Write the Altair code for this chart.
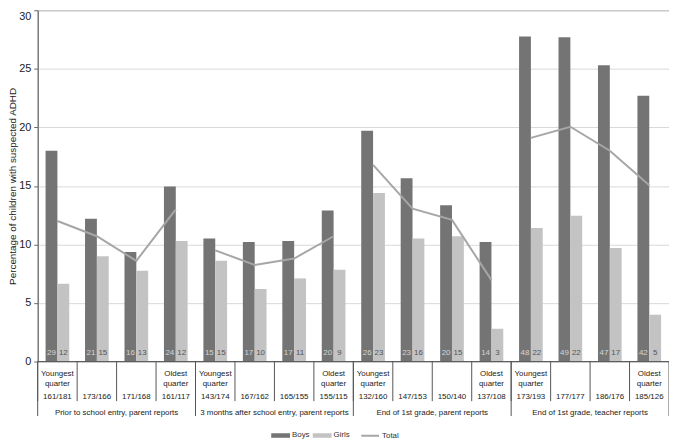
import altair as alt
import pandas as pd

groups = [
    "Prior to school entry, parent reports",
    "3 months after school entry, parent reports",
    "End of 1st grade, parent reports",
    "End of 1st grade, teacher reports",
]
quarter_labels = ["Youngest\nquarter", "", "", "Oldest\nquarter"]
n_labels = ["161/181", "173/166", "171/168", "161/117",
            "143/174", "167/162", "165/155", "155/115",
            "132/160", "147/153", "150/140", "137/108",
            "173/193", "177/177", "186/176", "185/126"]
boys_pct = [18.0, 12.2, 9.35, 14.95, 10.5, 10.2, 10.3, 12.9,
            19.7, 15.65, 13.35, 10.2, 27.75, 27.7, 25.3, 22.7]
girls_pct = [6.65, 9.0, 7.75, 10.3, 8.6, 6.2, 7.1, 7.85,
             14.4, 10.5, 10.7, 2.8, 11.4, 12.45, 9.7, 4.0]
total_pct = [12.0, 10.7, 8.6, 13.0, 9.5, 8.25, 8.8, 10.7,
             16.8, 13.05, 12.1, 6.95, 19.1, 20.05, 18.0, 15.05]
boys_n = [29, 21, 16, 24, 15, 17, 17, 20, 26, 23, 20, 14, 48, 49, 47, 42]
girls_n = [12, 15, 13, 12, 15, 10, 11, 9, 23, 16, 15, 3, 22, 22, 17, 5]

BOYS_C = "#747474"
GIRLS_C = "#c3c3c3"
TOTAL_C = "#a6a6a6"
FONT = "Liberation Sans"
H = 355
W = 638

cats = [f"c{i:02d}" for i in range(16)]
rows = []
for i, c in enumerate(cats):
    g = groups[i // 4]
    rows.append(dict(cat=c, group=g, sex="Boys", pct=boys_pct[i], n=boys_n[i]))
    rows.append(dict(cat=c, group=g, sex="Girls", pct=girls_pct[i], n=girls_n[i]))
bars_df = pd.DataFrame(rows)
total_df = pd.DataFrame(dict(cat=cats, group=[groups[i // 4] for i in range(16)],
                             pct=total_pct, sex=["Total"] * 16))
table_df = pd.DataFrame(dict(cat=cats, quarter=[quarter_labels[i % 4] for i in range(16)],
                             nlab=n_labels))
group_df = pd.DataFrame(dict(group=groups, mid=[cats[4 * k + 2] for k in range(4)],
                             start=[cats[4 * k] for k in range(4)]))
end_df = pd.DataFrame(dict(cat=[cats[-1]]))
zero_df = pd.DataFrame(dict(z=[0]))

xscale = alt.Scale(domain=cats, paddingInner=0, paddingOuter=0)
off_scale = alt.Scale(domain=["Boys", "Girls"], paddingInner=0, paddingOuter=0.6667)

bar_legend = alt.Legend(
    orient="none", legendX=236, legendY=420, direction="horizontal", title=None,
    labelFont=FONT, labelFontSize=8, labelColor="#333333", symbolSize=361,
    symbolType="M-1,-0.24L1,-0.24L1,0.24L-1,0.24Z", symbolStrokeWidth=0,
    labelOffset=2, columnPadding=3, padding=0,
)
line_legend = alt.Legend(
    orient="none", legendX=326, legendY=420, direction="horizontal", title=None,
    labelFont=FONT, labelFontSize=8, labelColor="#333333", symbolSize=324,
    symbolType="stroke", symbolStrokeWidth=2, labelOffset=2, padding=0,
)

yenc = alt.Y("pct:Q", scale=alt.Scale(domain=[0, 30]),
             axis=alt.Axis(values=[0, 5, 10, 15, 20, 25, 30], title="Percentage of children with suspected ADHD",
                           titleFont=FONT, titleFontSize=10, titleFontWeight="normal", titleColor="#222222",
                           titleX=-20, titleBaseline="bottom",
                           labelFont=FONT, labelFontSize=11, labelColor="#222222", labelPadding=3,
                           labelBaseline=alt.condition("datum.value == 30", alt.value("top"), alt.value("middle")),
                           grid=True, gridColor="#d9d9d9", domainColor="#666666", tickColor="#666666",
                           tickSize=4))

bars = alt.Chart(bars_df).mark_bar().encode(
    x=alt.X("cat:N", scale=xscale, axis=None),
    xOffset=alt.XOffset("sex:N", scale=off_scale),
    y=yenc,
    color=alt.Color("sex:N", scale=alt.Scale(domain=["Boys", "Girls"], range=[BOYS_C, GIRLS_C]),
                    legend=bar_legend),
)

counts = alt.Chart(bars_df).mark_text(font=FONT, fontSize=8, baseline="middle").encode(
    x=alt.X("cat:N", scale=xscale, axis=None),
    xOffset=alt.XOffset("sex:N", scale=off_scale),
    y=alt.value(H - 9),
    text="n:Q",
    color=alt.condition(alt.datum.sex == "Boys", alt.value("#d4d4d4"), alt.value("#555555")),
)

line = alt.Chart(total_df).mark_line(strokeWidth=2).encode(
    x=alt.X("cat:N", scale=xscale, axis=None),
    y=alt.Y("pct:Q"),
    detail="group:N",
    stroke=alt.Stroke("sex:N", scale=alt.Scale(domain=["Total"], range=[TOTAL_C]), legend=line_legend),
)

zero = alt.Chart(zero_df).mark_rule(color="#595959", strokeWidth=1).encode(y="z:Q")

sep = alt.Chart(table_df).mark_rule(color="#555555", strokeWidth=1).encode(
    x=alt.X("cat:N", scale=xscale, axis=None, bandPosition=0),
    y=alt.value(H),
    y2=alt.value(H + 40),
)
gsep = alt.Chart(group_df).mark_rule(color="#555555", strokeWidth=1).encode(
    x=alt.X("start:N", scale=xscale, axis=None, bandPosition=0),
    y=alt.value(H),
    y2=alt.value(H + 55),
)
endsep = alt.Chart(end_df).mark_rule(color="#555555", strokeWidth=1).encode(
    x=alt.X("cat:N", scale=xscale, axis=None, bandPosition=1),
    y=alt.value(H),
    y2=alt.value(H + 55),
)

qtext = alt.Chart(table_df).mark_text(font=FONT, fontSize=8, baseline="alphabetic", lineBreak="\n",
                                      lineHeight=9.5, color="#222222").encode(
    x=alt.X("cat:N", scale=xscale, axis=None),
    y=alt.value(H + 15),
    text="quarter:N",
)
ntext = alt.Chart(table_df).mark_text(font=FONT, fontSize=8, baseline="alphabetic", color="#222222").encode(
    x=alt.X("cat:N", scale=xscale, axis=None),
    y=alt.value(H + 38),
    text="nlab:N",
)
gtext = alt.Chart(group_df).mark_text(font=FONT, fontSize=8, baseline="alphabetic", color="#222222").encode(
    x=alt.X("mid:N", scale=xscale, axis=None, bandPosition=0),
    y=alt.value(H + 54),
    text="group:N",
)

chart = alt.layer(bars, line, counts, zero, sep, gsep, endsep, qtext, ntext, gtext).properties(
    width=W, height=H,
    padding={"left": 30, "top": 0, "right": 0, "bottom": 77},
    autosize=alt.AutoSizeParams(type="none"),
).configure_view(stroke="#8c8c8c", strokeWidth=1)

chart.save("out.html", embed_options={"renderer": "svg", "actions": False})
